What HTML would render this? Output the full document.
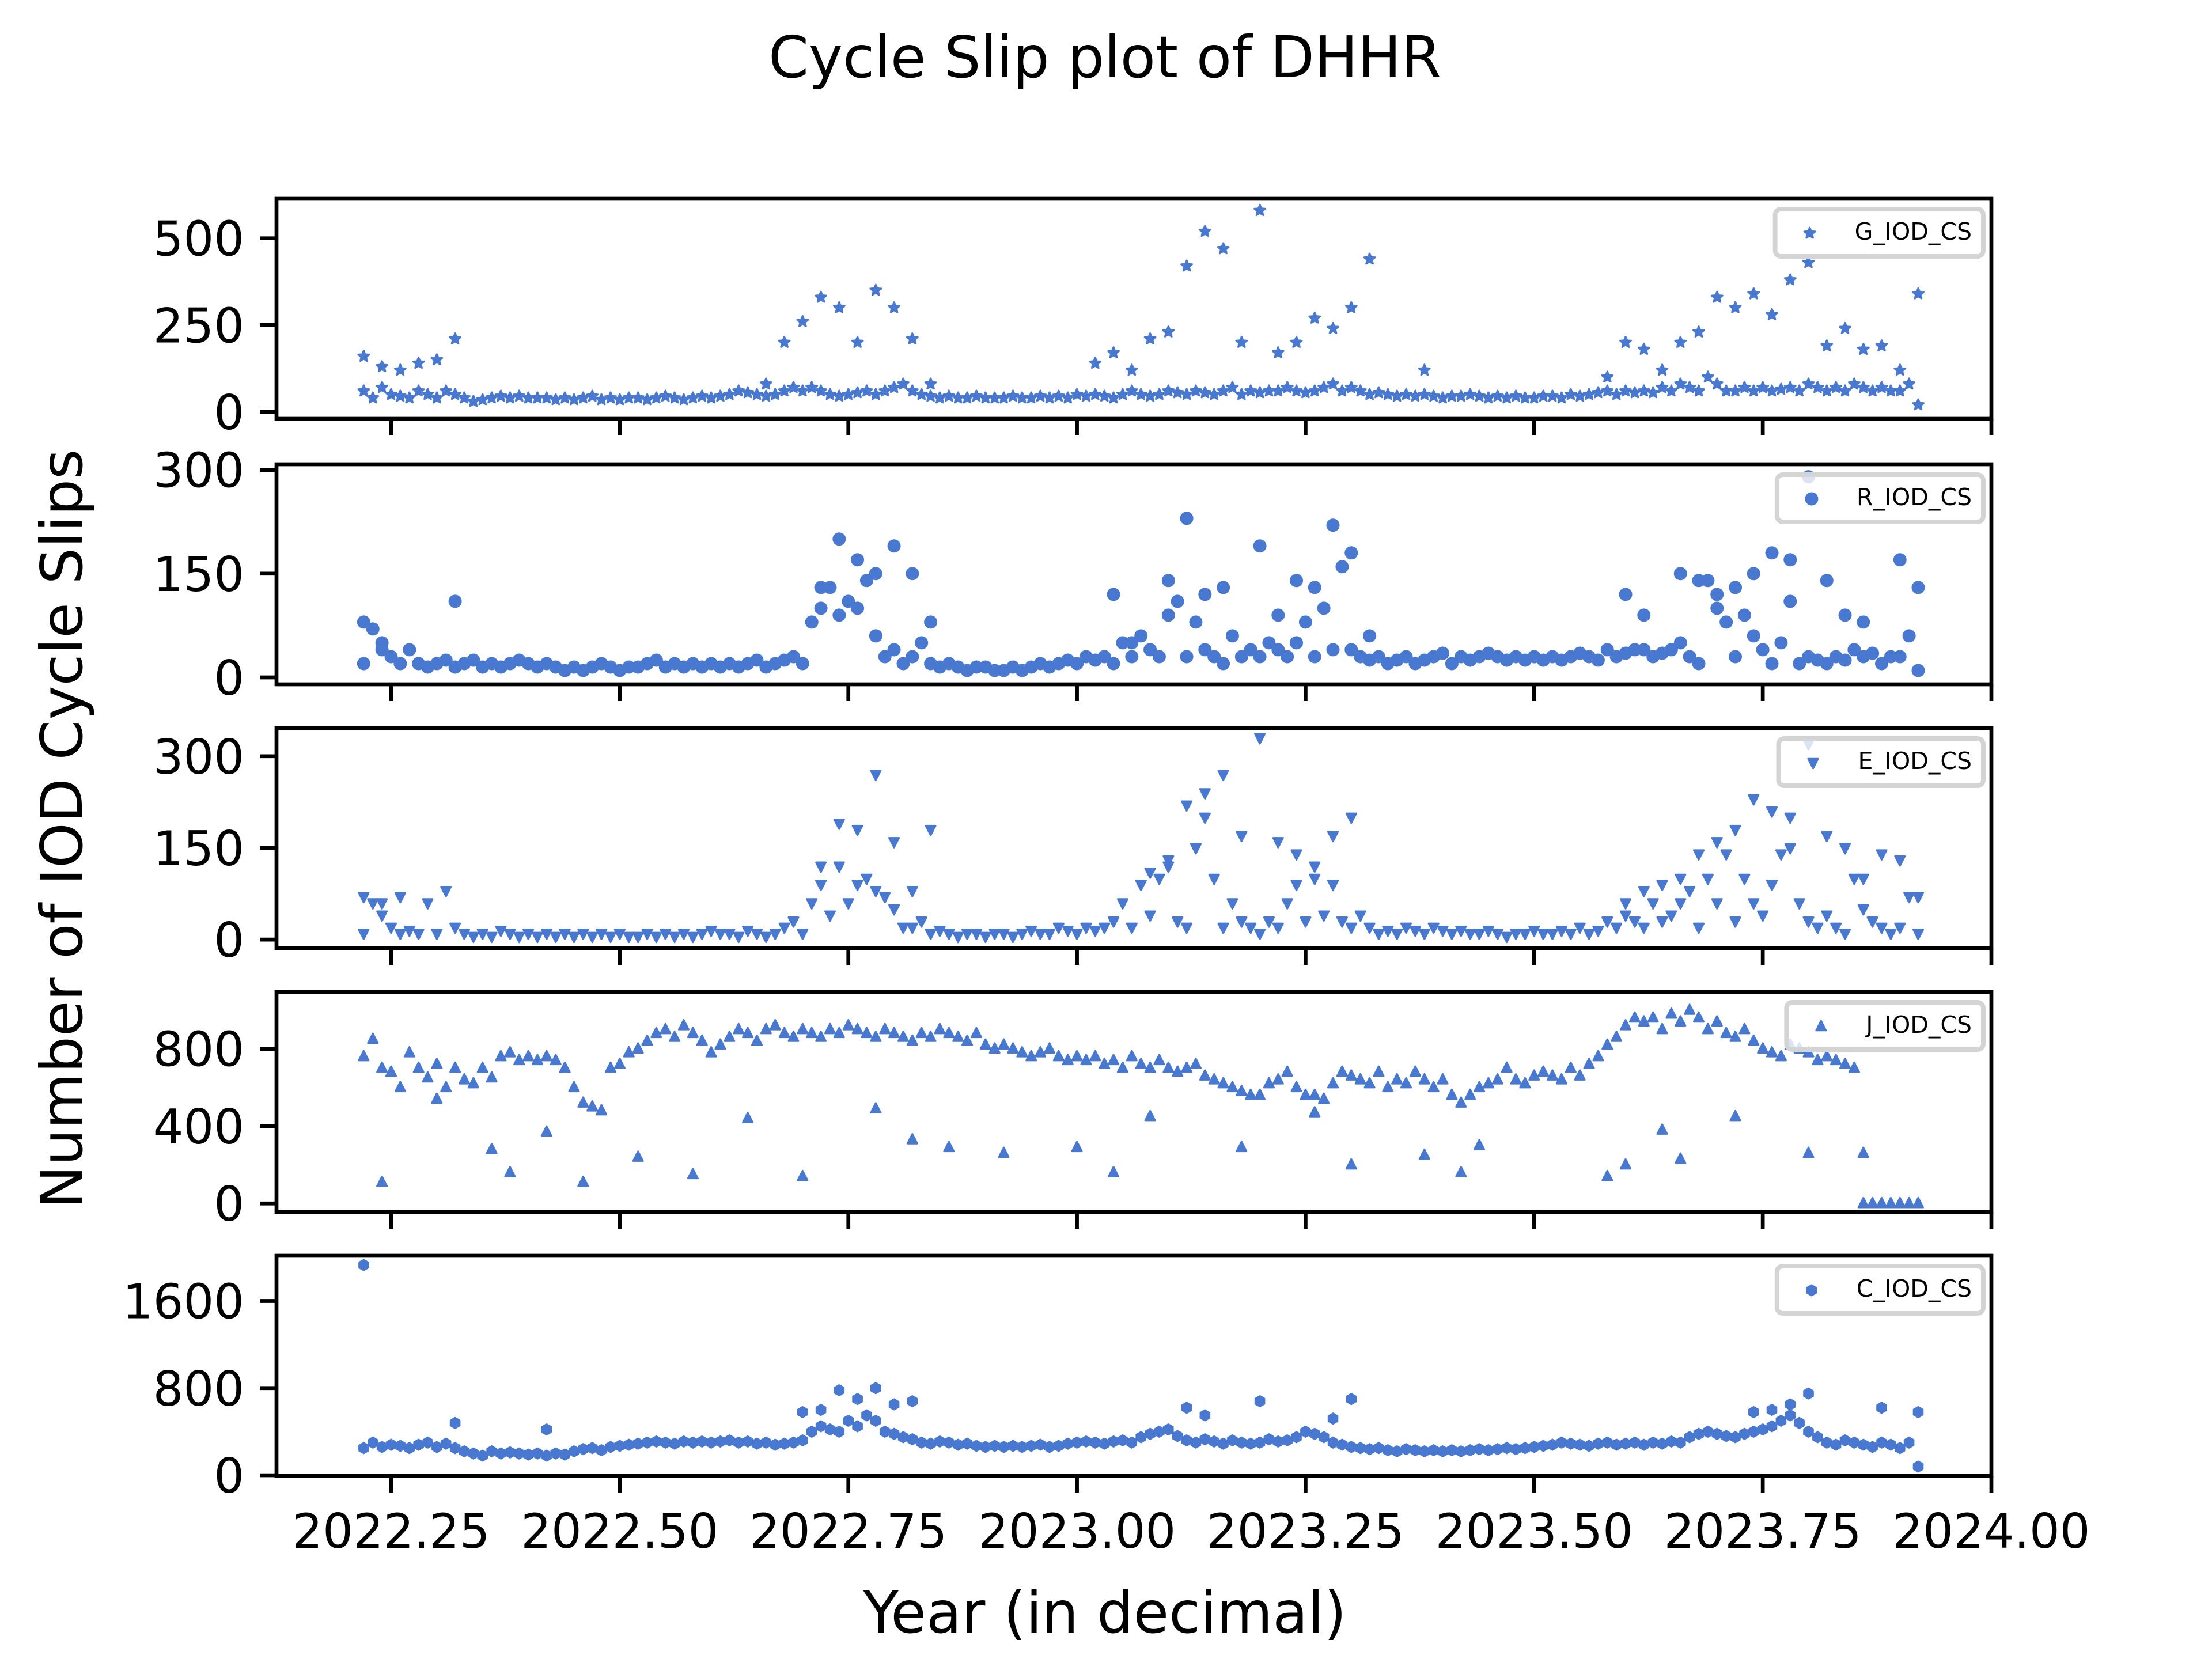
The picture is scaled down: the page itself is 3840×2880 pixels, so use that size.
<!DOCTYPE html>
<html><head><meta charset="utf-8"><style>
html,body{margin:0;padding:0;background:#fff;}
svg{display:block;font-family:"DejaVu Sans","Liberation Sans",sans-serif;}
</style></head>
<body>
<svg id="chart" width="3840" height="2880" viewBox="0 0 3840 2880" xmlns="http://www.w3.org/2000/svg">
<rect width="3840" height="2880" fill="#fff"/>
<text x="1918" y="134" font-size="100" text-anchor="middle">Cycle Slip plot of DHHR</text>
<text x="0" y="0" font-size="100" text-anchor="middle" transform="translate(142,1439) rotate(-90)">Number of IOD Cycle Slips</text>
<text x="1918" y="2834" font-size="100" text-anchor="middle">Year (in decimal)</text>
<g id="panels"></g>
</svg>
<script>
const n=null;
const xTicks=[2022.25,2022.5,2022.75,2023.0,2023.25,2023.5,2023.75,2024.0];
const xTickLabels=["2022.25","2022.50","2022.75","2023.00","2023.25","2023.50","2023.75","2024.00"];
const tStart=2022.22, tStep=0.01, hiStep=0.02;
const gBase=[60,40,70,50,45,40,60,50,40,60,50,40,30,35,40,45,40,45,40,40,40,35,40,35,40,45,35,40,35,40,40,35,40,45,40,35,40,45,40,45,50,60,55,50,45,50,60,70,60,70,60,50,45,50,55,60,50,60,70,80,60,50,45,40,45,40,40,45,40,40,40,45,40,40,45,40,45,40,50,45,50,45,40,50,60,50,45,50,60,55,50,60,55,50,60,70,50,60,55,60,60,70,60,55,60,70,80,60,70,60,50,55,50,45,50,45,50,45,40,45,45,50,45,40,45,40,45,40,40,45,45,40,50,45,50,55,60,50,60,55,60,55,70,60,80,70,60,100,80,60,60,70,60,70,60,65,70,60,80,70,60,70,60,80,70,60,70,60,60,80,20];
const gHi=[160,130,120,140,150,210,n,n,n,n, n,n,n,n,n,n,n,n,n,n, n,n,80,200,260,330,300,200,350,300, 210,80,n,n,n,n,n,n,n,n, 140,170,120,210,230,420,520,470,200,580, 170,200,270,240,300,440,n,n,120,n, n,n,n,n,n,n,n,n,100,200, 180,120,200,230,330,300,340,280,380,430, 190,240,180,190,120,340];
const rBase=[20,70,40,30,20,40,20,15,20,25,15,20,25,15,20,15,20,25,20,15,20,15,10,15,10,15,20,15,10,15,15,20,25,15,20,15,20,15,20,15,20,15,20,25,15,20,25,30,20,80,100,130,90,110,100,140,60,30,40,20,30,50,20,15,20,15,10,15,15,10,10,15,10,15,20,15,20,25,20,30,25,30,20,50,30,60,40,30,90,110,30,80,40,30,20,60,30,40,30,50,40,30,50,80,30,100,40,160,40,30,25,30,20,25,30,20,25,30,35,20,30,25,30,35,30,25,30,25,30,25,30,25,30,35,30,25,40,30,35,40,40,30,35,40,50,30,20,140,100,80,30,90,60,40,20,50,110,20,30,25,20,30,25,40,30,35,20,30,30,60,10];
const rHi=[80,50,n,n,n,110,n,n,n,n, n,n,n,n,n,n,n,n,n,n, n,n,n,n,n,130,200,170,150,190, 150,80,n,n,n,n,n,n,n,n, n,120,50,n,140,230,120,130,n,190, 90,140,130,220,180,60,n,n,n,n, n,n,n,n,n,n,n,n,n,120, 90,n,150,140,120,130,150,180,170,290, 140,90,80,n,170,130];
const eBase=[10,60,40,20,10,15,10,60,10,80,20,10,5,10,5,15,10,5,10,5,10,5,10,5,10,5,10,5,10,5,5,10,5,10,5,10,5,10,15,10,10,5,15,10,5,10,20,30,10,60,90,40,120,60,90,100,80,70,50,20,20,30,10,15,10,5,10,10,5,10,10,5,10,15,10,10,20,15,10,20,15,20,30,60,20,90,40,100,120,30,20,150,200,100,20,60,30,20,10,30,20,60,90,30,100,40,90,30,20,40,20,10,15,10,20,15,10,20,15,10,15,10,10,15,10,5,10,10,15,10,10,15,10,20,10,15,30,20,40,30,20,60,30,40,60,80,20,100,60,140,30,100,60,40,90,140,200,60,30,20,40,20,10,100,50,30,20,10,20,70,10];
const eHi=[70,60,70,n,n,n,n,n,n,n, n,n,n,n,n,n,n,n,n,n, n,n,n,n,n,120,190,180,270,160, 80,180,n,n,n,n,n,n,n,n, n,n,n,110,130,220,240,270,170,330, 160,140,120,170,200,n,n,n,n,n, n,n,n,n,n,n,n,n,n,60, 80,90,100,140,160,180,230,210,150,320, 170,150,100,140,130,70];
const jBase=[760,850,700,680,600,780,700,650,720,600,700,640,620,700,650,760,780,740,760,740,760,740,700,600,520,500,480,700,720,780,800,840,880,900,860,920,880,840,780,820,860,900,880,840,900,920,880,860,900,880,860,900,880,920,900,880,860,900,880,860,840,880,860,900,880,860,840,880,820,800,820,800,780,760,780,800,760,740,760,740,760,720,740,700,760,720,700,740,700,680,700,720,660,640,620,600,580,560,560,620,640,680,600,560,560,540,620,680,660,640,620,680,600,640,620,680,640,600,640,560,520,560,600,620,640,700,640,620,660,680,660,640,700,660,720,760,820,860,920,960,940,960,900,980,940,1000,960,900,940,880,860,900,840,800,780,760,820,800,780,740,760,740,720,700,0,0,0,0,0,0,0];
const jLo=[n,110,n,n,540,n,n,280,160,n, 370,n,110,n,n,240,n,n,150,n, n,440,n,n,140,n,n,n,490,n, 330,n,290,n,n,260,n,n,n,290, n,160,n,450,n,n,n,n,290,n, n,n,470,n,200,n,n,n,250,n, 160,300,n,n,n,n,n,n,140,200, n,380,230,n,n,450,n,n,n,260, n,n,260,n,n,n];
const cBase=[250,300,260,280,270,250,280,300,260,290,250,220,200,180,220,200,210,200,190,200,180,200,190,220,240,250,230,260,270,280,290,300,310,300,290,310,300,310,300,310,320,300,310,290,300,280,290,300,320,400,450,420,400,500,450,550,500,400,380,350,330,300,290,310,300,280,290,270,260,270,260,270,260,270,280,260,270,290,300,310,300,290,310,320,300,350,380,400,420,360,320,300,330,310,290,320,300,290,300,330,310,320,350,400,380,350,300,280,260,250,240,250,230,220,240,230,220,230,220,230,220,230,240,230,240,250,240,250,260,270,280,300,290,280,270,290,300,280,290,300,280,300,290,310,300,350,380,400,380,360,350,380,400,420,450,500,550,480,400,350,300,280,320,300,280,260,300,280,250,300,80];
const cHi=[1930,n,n,n,n,480,n,n,n,n, 420,n,n,n,n,n,n,n,n,n, n,n,n,n,580,600,780,700,800,650, 680,n,n,n,n,n,n,n,n,n, n,n,n,n,n,620,550,n,n,680, n,n,n,520,700,n,n,n,n,n, n,n,n,n,n,n,n,n,n,n, n,n,n,n,n,n,580,600,650,750, n,n,n,620,n,580];

const panels=[
 {name:'g',label:'G_IOD_CS',marker:'star',top:345,ymin:-20,ymax:614,ticks:[0,250,500],base:gBase,hi:gHi},
 {name:'r',label:'R_IOD_CS',marker:'circle',top:806,ymin:-10,ymax:308,ticks:[0,150,300],base:rBase,hi:rHi},
 {name:'e',label:'E_IOD_CS',marker:'tdown',top:1264,ymin:-14,ymax:346,ticks:[0,150,300],base:eBase,hi:eHi},
 {name:'j',label:'J_IOD_CS',marker:'tup',top:1722,ymin:-44,ymax:1094,ticks:[0,400,800],base:jBase,hi:jLo},
 {name:'c',label:'C_IOD_CS',marker:'hex',top:2180,ymin:-5,ymax:2015,ticks:[0,800,1600],base:cBase,hi:cHi}
];
const L=480,R=3457,H=382,COL='#4878d0';
const xScale=v=>679+(v-2022.25)*(R-679)/1.75;
const NS='http://www.w3.org/2000/svg';
function mk(tag,attrs,parent){const e=document.createElementNS(NS,tag);for(const k in attrs)e.setAttribute(k,attrs[k]);parent.appendChild(e);return e;}
function markerPath(type,x,y,s){
 if(type==='circle')return `M${x-s},${y}a${s},${s} 0 1,0 ${2*s},0a${s},${s} 0 1,0 ${-2*s},0Z`;
 if(type==='tup')return `M${x},${y-s*1.1}L${x+s*0.95},${y+s*0.75}L${x-s*0.95},${y+s*0.75}Z`;
 if(type==='tdown')return `M${x},${y+s*1.1}L${x+s*0.95},${y-s*0.75}L${x-s*0.95},${y-s*0.75}Z`;
 if(type==='hex'){let p='';for(let i=0;i<6;i++){const a=Math.PI/3*i+Math.PI/6;p+=(i?'L':'M')+(x+s*Math.cos(a)).toFixed(1)+','+(y+s*Math.sin(a)).toFixed(1);}return p+'Z';}
 let p='';for(let i=0;i<10;i++){const a=-Math.PI/2+Math.PI/5*i;const r=i%2?s*0.5:s*1.1;p+=(i?'L':'M')+(x+r*Math.cos(a)).toFixed(1)+','+(y+r*Math.sin(a)).toFixed(1);}return p+'Z';
}
const root=document.getElementById('panels');
panels.forEach((p,pi)=>{
 const g=mk('g',{},root);
 
 
 const yS=v=>p.top+H-(v-p.ymin)*H/(p.ymax-p.ymin);
 const sz=p.marker==='circle'?10:(p.marker==='hex'?9:9);
 const pts=mk('g',{fill:COL,stroke:COL,'stroke-width':3,'stroke-linejoin':'round'},g);
 
 
 p.base.forEach((v,i)=>{if(v===null)return;
  const e=mk('path',{d:markerPath(p.marker,xScale(tStart+i*tStep),yS(v),sz)},pts);
  
  });
 p.hi.forEach((v,i)=>{if(v===null)return;
  const e=mk('path',{d:markerPath(p.marker,xScale(tStart+i*hiStep),yS(v),sz)},pts);
  
  });
 const fr=mk('rect',{x:L,y:p.top,width:R-L,height:H,fill:'none',stroke:'#000','stroke-width':6.7},g);
 
 
 p.ticks.forEach(t=>{const y=yS(t);
  mk('line',{x1:L-29,x2:L,y1:y,y2:y,stroke:'#000','stroke-width':6.7},g);
  const tx=mk('text',{x:L-56,y:y+30,'font-size':83,'text-anchor':'end'},g);tx.textContent=t;
  
  });
 xTicks.forEach((t,i)=>{const x=xScale(t);
  mk('line',{x1:x,x2:x,y1:p.top+H,y2:p.top+H+29,stroke:'#000','stroke-width':6.7},g);
  if(pi===4){const tx=mk('text',{x:x,y:p.top+H+125,'font-size':83,'text-anchor':'middle'},g);tx.textContent=xTickLabels[i];
   
   }});
 const lg=mk('g',{},g);
 
 
 const box=mk('rect',{x:3077,y:p.top+18,width:366,height:82,rx:10,fill:'#fff','fill-opacity':0.8,stroke:'#d4d4d4','stroke-width':8},lg);
 const lt=mk('text',{x:3423,y:p.top+71,'font-size':41,'text-anchor':'end'},lg);lt.textContent=p.label;
 
 
 let tw=205;try{tw=lt.getComputedTextLength()||205;}catch(e){}
 const tx0=3423-tw;
 mk('path',{d:markerPath(p.marker,tx0-78,p.top+60,sz),fill:COL,stroke:COL,'stroke-width':3,'stroke-linejoin':'round'},lg);
 box.setAttribute('x',tx0-138);
 box.setAttribute('width',3443-(tx0-138));
});
</script>
</body></html>
